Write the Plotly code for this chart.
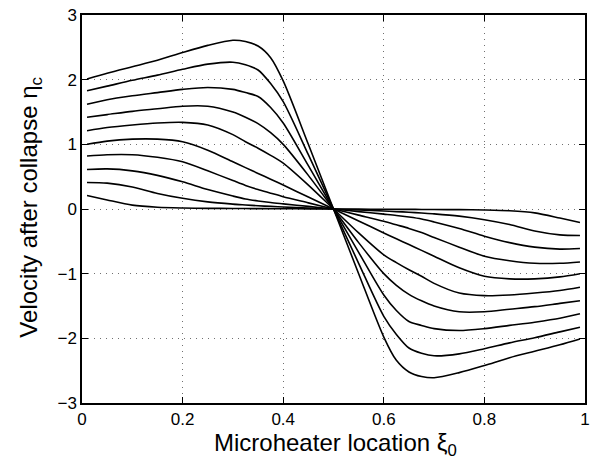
import plotly.graph_objects as go

# x positions (microheater location)
xi0 = [0.01, 0.05, 0.10, 0.15, 0.20, 0.25, 0.30, 0.325, 0.35, 0.375, 0.40, 0.45, 0.50,
       0.55, 0.60, 0.625, 0.65, 0.675, 0.70, 0.75, 0.80, 0.85, 0.90, 0.95, 0.99]

# velocity after collapse for each curve
eta_c_02 = [0.21, 0.14, 0.06, 0.027, 0.015, 0.010, 0.008, 0.007, 0.006, 0.005, 0.004, 0.002, 0.0,
            -0.002, -0.004, -0.005, -0.006, -0.007, -0.008, -0.010, -0.015, -0.027, -0.06, -0.14, -0.21]
eta_c_04 = [0.41, 0.40, 0.34, 0.24, 0.165, 0.11, 0.075, 0.062, 0.050, 0.040, 0.030, 0.014, 0.0,
            -0.014, -0.030, -0.040, -0.050, -0.062, -0.075, -0.11, -0.165, -0.24, -0.34, -0.40, -0.41]
eta_c_06 = [0.61, 0.62, 0.59, 0.52, 0.42, 0.30, 0.20, 0.155, 0.125, 0.10, 0.08, 0.04, 0.0,
            -0.04, -0.08, -0.10, -0.125, -0.155, -0.20, -0.30, -0.42, -0.52, -0.59, -0.62, -0.61]
eta_c_08 = [0.82, 0.84, 0.84, 0.80, 0.73, 0.59, 0.44, 0.365, 0.30, 0.245, 0.19, 0.095, 0.0,
            -0.095, -0.19, -0.245, -0.30, -0.365, -0.44, -0.59, -0.73, -0.80, -0.84, -0.84, -0.82]
eta_c_10 = [1.00, 1.05, 1.08, 1.08, 1.04, 0.91, 0.73, 0.64, 0.55, 0.46, 0.37, 0.185, 0.0,
            -0.185, -0.37, -0.46, -0.55, -0.64, -0.73, -0.91, -1.04, -1.08, -1.08, -1.05, -1.00]
eta_c_12 = [1.21, 1.26, 1.30, 1.33, 1.34, 1.30, 1.15, 1.04, 0.94, 0.83, 0.71, 0.37, 0.0,
            -0.37, -0.71, -0.83, -0.94, -1.04, -1.15, -1.30, -1.34, -1.33, -1.30, -1.26, -1.21]
eta_c_14 = [1.42, 1.46, 1.51, 1.55, 1.59, 1.59, 1.50, 1.42, 1.32, 1.18, 1.00, 0.52, 0.0,
            -0.52, -1.00, -1.18, -1.32, -1.42, -1.50, -1.59, -1.59, -1.55, -1.51, -1.46, -1.42]
eta_c_16 = [1.62, 1.69, 1.75, 1.80, 1.85, 1.88, 1.85, 1.80, 1.74, 1.57, 1.33, 0.67, 0.0,
            -0.67, -1.33, -1.57, -1.74, -1.80, -1.85, -1.88, -1.85, -1.80, -1.75, -1.69, -1.62]
eta_c_18 = [1.83, 1.90, 1.99, 2.07, 2.16, 2.24, 2.27, 2.23, 2.15, 1.94, 1.66, 0.84, 0.0,
            -0.84, -1.66, -1.94, -2.15, -2.23, -2.27, -2.24, -2.16, -2.07, -1.99, -1.90, -1.83]
eta_c_20 = [2.01, 2.10, 2.20, 2.30, 2.42, 2.53, 2.61, 2.59, 2.52, 2.34, 1.98, 1.00, 0.0,
            -1.00, -1.98, -2.34, -2.52, -2.59, -2.61, -2.53, -2.42, -2.30, -2.20, -2.10, -2.01]

curves = [eta_c_02, eta_c_04, eta_c_06, eta_c_08, eta_c_10,
          eta_c_12, eta_c_14, eta_c_16, eta_c_18, eta_c_20]

x_ticks = [0, 0.2, 0.4, 0.6, 0.8, 1]
x_tick_labels = ["0", "0.2", "0.4", "0.6", "0.8", "1"]
y_ticks = [-3, -2, -1, 0, 1, 2, 3]
y_tick_labels = ["\u22123", "\u22122", "\u22121", "0", "1", "2", "3"]

x_title = "Microheater location \u03be<sub>0</sub>"
y_title = "Velocity after collapse \u03b7<sub>c</sub>"

fig = go.Figure()
for c in curves:
    fig.add_trace(go.Scatter(x=xi0, y=c, mode="lines",
                             line=dict(color="black", width=1.6, shape="spline", smoothing=0.8),
                             showlegend=False, hoverinfo="skip"))

font_family = "Liberation Sans, Arial, Helvetica, sans-serif"
axis_common = dict(
    showline=True, linecolor="black", linewidth=1.5, mirror="ticks",
    ticks="inside", ticklen=6, tickcolor="black", tickwidth=1.2,
    showgrid=True, gridcolor="#707070", gridwidth=1, griddash="1px,5px",
    zeroline=False, tickfont=dict(family=font_family, size=17, color="black"),
    layer="above traces", ticklabeloverflow="allow",
)

fig.update_xaxes(range=[0, 1], tickvals=x_ticks, ticktext=x_tick_labels, **axis_common)
fig.update_yaxes(range=[-3, 3], tickvals=y_ticks, ticktext=y_tick_labels, **axis_common)

fig.add_annotation(text=x_title, xref="paper", yref="paper", x=0.503, y=-0.1065,
                   xanchor="center", yanchor="middle", showarrow=False,
                   font=dict(family=font_family, size=24, color="black"))
fig.add_annotation(text=y_title, xref="paper", yref="paper", x=-0.103, y=0.504,
                   xanchor="center", yanchor="middle", showarrow=False, textangle=-90,
                   font=dict(family=font_family, size=24, color="black"))

fig.update_layout(
    width=593, height=460,
    margin=dict(l=82, r=8, t=15, b=57, autoexpand=False),
    paper_bgcolor="white", plot_bgcolor="white",
    font=dict(family=font_family, color="black"),
)

# remove the browser's default 8px body margin so the figure fills the window
fig.write_html("out.html", config={"displayModeBar": False},
               post_script="document.body.style.margin='0px';")
